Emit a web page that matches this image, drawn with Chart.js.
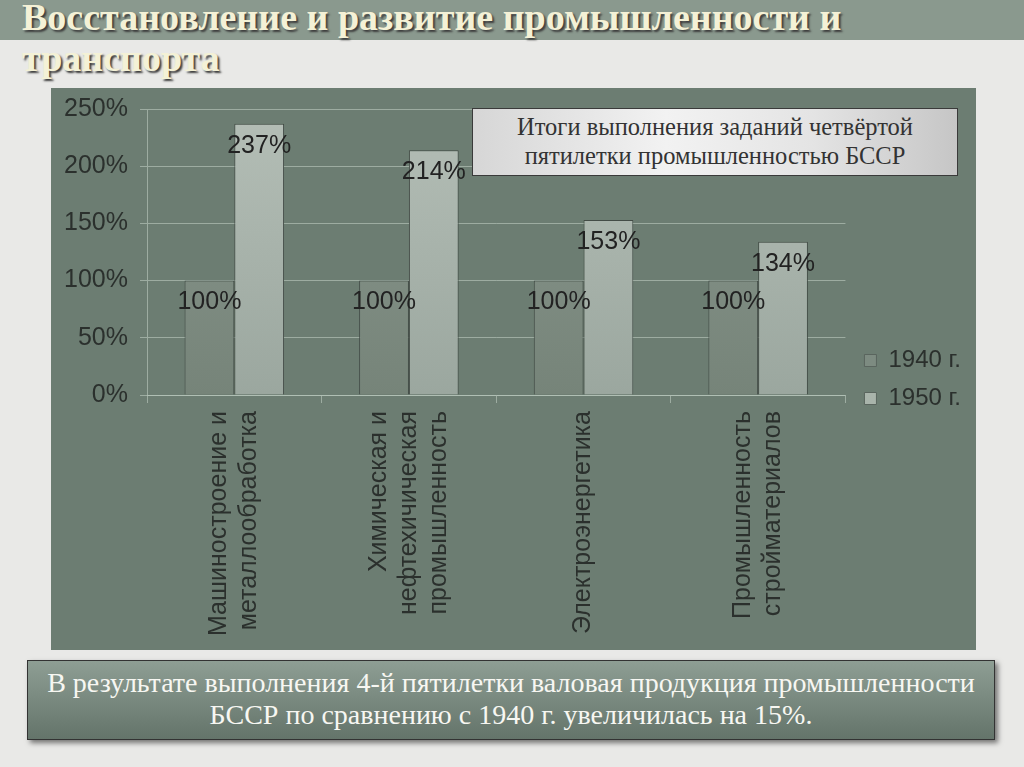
<!DOCTYPE html>
<html>
<head>
<meta charset="utf-8">
<script src="https://cdn.jsdelivr.net/npm/chart.js@4.4.0/dist/chart.umd.min.js"></script>
<style>
  body { margin: 0; width: 1024px; height: 767px; background: #e9e9e7; position: relative; overflow: hidden; }
  #band { position: absolute; left: 0; top: 0; width: 1024px; height: 40px; background: #8a998e; }
  #slideTitle { position: absolute; left: 22px; top: -3px; margin: 0; font: bold 38px "Liberation Serif", serif; line-height: 41px; color: #f4f1d6; text-shadow: 2px 2px 2px #3d3d3d; }
  #panel { position: absolute; left: 51px; top: 88px; width: 925px; height: 562px; background: #6c7d72; }
  #boxTitle { position: absolute; left: 472px; top: 108px; width: 484px; height: 63px; border: 1px solid #3a3a3a;
    background: linear-gradient(90deg, #d6d6d6, #f2f2f2 40%, #e4e4e4 70%, #c6c6c6);
    font: 24.5px "Liberation Serif", serif; color: #333; text-align: center; line-height: 29px; padding-top: 3px; box-sizing: content-box; }
  #note { position: absolute; left: 27px; top: 660px; width: 968px; height: 80px; border: 1px solid #333;
    background: linear-gradient(180deg, #8e9e94, #64746a); box-shadow: 3px 3px 5px rgba(0,0,0,0.5);
    font: 28px "Liberation Serif", serif; color: #f7f7f2; text-align: center; line-height: 32px; padding-top: 6px; box-sizing: border-box; }
</style>
</head>
<body>
<div id="band"></div>
<h1 id="slideTitle">Восстановление и развитие промышленности и<br>транспорта</h1>
<div id="panel"><canvas id="chart" width="925" height="562"></canvas></div>
<div id="boxTitle">Итоги выполнения заданий четвёртой<br>пятилетки промышленностью БССР</div>
<div id="note">В результате выполнения 4-й пятилетки валовая продукция промышленности<br>БССР по сравнению с 1940 г. увеличилась на 15%.</div>
<script>
const categories = [
  ['Машиностроение и', 'металлообработка'],
  ['Химическая и', 'нефтехичическая', 'промышленность'],
  'Электроэнергетика',
  ['Промышленность', 'стройматериалов']
];
const series1940 = [100, 100, 100, 100];
const series1950 = [237, 214, 153, 134];
const seriesNames = ['1940 г.', '1950 г.'];
const legendColors = ['#7d8b81', '#a9b4ab'];

const axisFont = { family: '"Liberation Sans", Arial, sans-serif', size: 25 };
const textColor = '#2b302d';
const gridColor = 'rgba(190,204,194,0.6)';

function grad(top, bottom) {
  return function(c) {
    const area = c.chart.chartArea;
    if (!area) return top;
    const g = c.chart.ctx.createLinearGradient(0, area.top, 0, area.bottom);
    g.addColorStop(0, top);
    g.addColorStop(1, bottom);
    return g;
  };
}

// value labels just under the top of each bar
const valueLabels = {
  id: 'valueLabels',
  afterDatasetsDraw(chart) {
    const ctx = chart.ctx;
    ctx.save();
    ctx.font = '25px "Liberation Sans", Arial, sans-serif';
    ctx.fillStyle = '#222';
    ctx.textAlign = 'center';
    ctx.textBaseline = 'middle';
    chart.data.datasets.forEach((ds, i) => {
      chart.getDatasetMeta(i).data.forEach((bar, j) => {
        ctx.fillText(ds.data[j] + '%', bar.x, bar.y + 22);
      });
    });
    ctx.restore();
  }
};

// legend a bit right of the plot, rotated multi-line labels centred on their category
const layoutTweaks = {
  id: 'layoutTweaks',
  afterLayout(chart) {
    chart.legend.left += 5;
    chart.legend.right += 5;
    const x = chart.scales.x;
    x._labelItems = null;
    x.getLabelItems().forEach(item => {
      const lines = Array.isArray(item.label) ? item.label.length : 1;
      item.options.translation[0] -= (lines - 1) * item.font.lineHeight / 2;
    });
  }
};

const ctx = document.getElementById('chart').getContext('2d');
const myChart = new Chart(ctx, {
  type: 'bar',
  data: {
    labels: categories,
    datasets: [
      { label: seriesNames[0], data: series1940, backgroundColor: grad('#8a978e', '#768479'),
        borderColor: '#3f4843', borderWidth: 1, categoryPercentage: 0.57, barPercentage: 1 },
      { label: seriesNames[1], data: series1950, backgroundColor: grad('#b4beb6', '#9ba79f'),
        borderColor: '#434c46', borderWidth: 1, categoryPercentage: 0.57, barPercentage: 1 }
    ]
  },
  options: {
    responsive: false,
    animation: false,
    devicePixelRatio: 1,
    layout: { padding: { top: 21, right: 10, bottom: 0, left: 0 } },
    plugins: {
      legend: {
        position: 'right',
        labels: {
          font: { family: axisFont.family, size: 24 }, color: textColor, boxWidth: 12, boxHeight: 12, padding: 14,
          generateLabels: chart => Chart.defaults.plugins.legend.labels.generateLabels(chart).map((l, i) => {
            l.fillStyle = legendColors[i];
            l.strokeStyle = '#5a655e';
            l.lineWidth = 1;
            return l;
          })
        }
      },
      tooltip: { enabled: false }
    },
    scales: {
      y: {
        min: 0, max: 250,
        ticks: { stepSize: 50, font: axisFont, color: textColor, padding: 12, callback: v => v + '%' },
        grid: { color: gridColor, tickLength: 7 },
        border: { color: gridColor },
        afterFit: s => { s.width = 96; s.paddingTop = 0; s.paddingBottom = 0; }
      },
      x: {
        grid: { offset: true, drawOnChartArea: false, color: gridColor, tickLength: 8 },
        border: { color: gridColor },
        ticks: { font: axisFont, color: textColor, minRotation: 90, maxRotation: 90, padding: 8, autoSkip: false },
        afterFit: s => { s.height = 255; }
      }
    }
  },
  plugins: [valueLabels, layoutTweaks]
});
</script>
</body>
</html>
